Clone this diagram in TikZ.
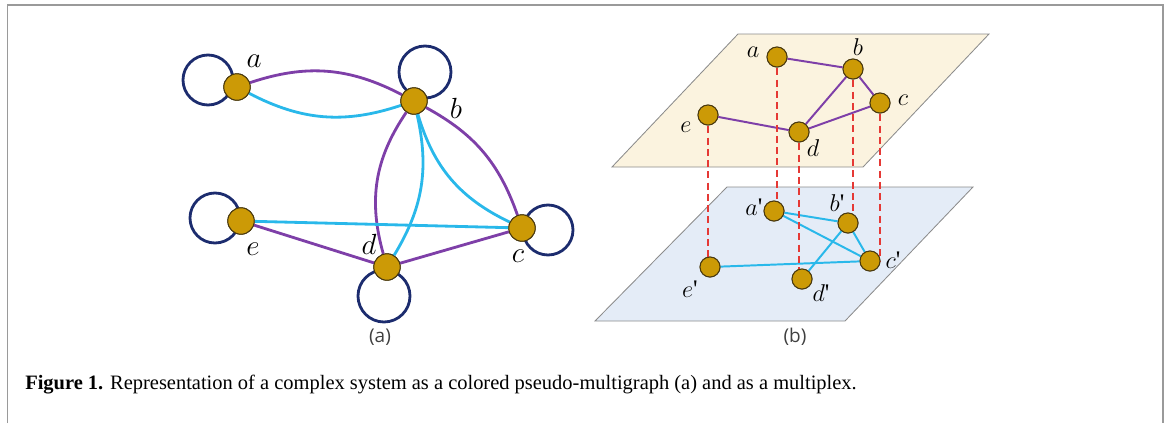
\documentclass[tikz,border=0pt]{standalone}
\usepackage{fontspec}
\setmainfont{Liberation Serif}
\newfontfamily\panelfont{Open Sans}
\usetikzlibrary{positioning}
\definecolor{nodegold}{HTML}{CC9A06}
\definecolor{nodeedge}{HTML}{4A3A10}
\definecolor{linkpurple}{HTML}{7E3FA8}
\definecolor{linkcyan}{HTML}{29B8EA}
\definecolor{loopnavy}{HTML}{1C2C6E}
\definecolor{interred}{HTML}{E53935}
\definecolor{planecream}{HTML}{FBF3DF}
\definecolor{planeblue}{HTML}{E4ECF7}
\definecolor{framegrey}{HTML}{9A9A9A}
\newcommand{\pr}{\textquotesingle}
\tikzset{
  vert/.style={circle, fill=nodegold, draw=nodeedge, line width=0.7pt,
               minimum size=0.66cm, inner sep=0pt},
  vertb/.style={vert, minimum size=0.5cm},
  lbl/.style={font=\fontsize{22}{22}\selectfont, inner sep=0pt},
  lblb/.style={font=\fontsize{18}{18}\selectfont, inner sep=0pt},
  lpur/.style={draw=linkpurple, line width=2pt},
  lcya/.style={draw=linkcyan, line width=2pt},
  lpurb/.style={draw=linkpurple, line width=1.4pt},
  lcyab/.style={draw=linkcyan, line width=1.4pt},
  selfloop/.style={draw=loopnavy, line width=2pt},
  inter/.style={draw=interred, line width=1.8pt, dash pattern=on 5pt off 3pt},
  plane/.style={draw=black!45, line width=0.6pt},
  panel/.style={font=\panelfont\fontsize{13.5}{13.5}\selectfont, text=black!75},
}
\begin{document}
\begin{tikzpicture}[x=0.025cm, y=-0.025cm]
  \useasboundingbox (0,0) rectangle (1170,423);
  % frame
  \draw[framegrey, line width=1.4pt] (7.5,423) -- (7.5,5) -- (1163,5) -- (1163,423);

  % (a) pseudo-multigraph
  \draw[selfloop] (208,80) circle (25);
  \draw[selfloop] (425,72) circle (26);
  \draw[selfloop] (548,230) circle (25);
  \draw[selfloop] (384,296) circle (26);
  \draw[selfloop] (215,218) circle (25);
  \node[vert] (a) at (237,87) {};
  \node[vert] (b) at (414,101) {};
  \node[vert] (c) at (522,228) {};
  \node[vert] (d) at (387,267) {};
  \node[vert] (e) at (241,221) {};
  \draw[lpur] (a) to[bend left=23] (b);
  \draw[lcya] (a) to[bend right=23] (b);
  \draw[lpur] (b) to[bend right=25] (d);
  \draw[lcya] (b) to[bend left=22] (d);
  \draw[lpur] (b) to[bend left=21] (c);
  \draw[lcya] (b) to[bend right=24] (c);
  \draw[lcya] (e) -- (c);
  \draw[lpur] (e) -- (d);
  \draw[lpur] (d) -- (c);
  \foreach \n in {a,b,c,d,e}
    \node[vert] at (\n) {};
  \node[lbl] (la) at (254,61) {$a$};
  \node[lbl] (lb) at (456,108) {$b$};
  \node[lbl] (lc) at (518,256) {$c$};
  \node[lbl] (ld) at (369,244) {$d$};
  \node[lbl] (le) at (253,249) {$e$};
  \node[panel] (capa) at (380,337) {(a)};

  % (b) multiplex
  \filldraw[plane, fill=planeblue] (727,187) -- (973,187) -- (845,321) -- (595,321) -- cycle;
  \filldraw[plane, fill=planecream] (738,34) -- (989,34) -- (863,167) -- (612,167) -- cycle;
  % upper layer
  \node[vertb] (ta) at (777,57) {};
  \node[vertb] (tb) at (853,69) {};
  \node[vertb] (tc) at (880,103) {};
  \node[vertb] (td) at (799,132) {};
  \node[vertb] (te) at (708,115) {};
  % lower layer
  \node[vertb] (ba) at (774,211) {};
  \node[vertb] (bb) at (848,223) {};
  \node[vertb] (bc) at (870,261) {};
  \node[vertb] (bd) at (802,279) {};
  \node[vertb] (be) at (710,267) {};
  \draw[lpurb] (ta) -- (tb) -- (td) -- (te);
  \draw[lpurb] (tb) -- (tc) -- (td);
  \draw[lcyab] (ba) -- (bb) -- (bc) -- (ba);
  \draw[lcyab] (bb) -- (bd);
  \draw[lcyab] (be) -- (bc);
  % interlayer
  \draw[inter] (te.center) -- (te.center |- be.center);
  \draw[inter] (ta.center) -- (ta.center |- ba.center);
  \draw[inter] (td.center) -- (td.center |- bd.center);
  \draw[inter] (tb.center) -- (tb.center |- bb.center);
  \draw[inter] (tc.center) -- (tc.center |- bc.center);
  \foreach \n in {ta,tb,tc,td,te,ba,bb,bc,bd,be}
    \node[vertb] at (\n) {};
  \node[lblb] at (753,52) {$a$};
  \node[lblb] at (858,47) {$b$};
  \node[lblb] at (903,100) {$c$};
  \node[lblb] at (813,148) {$d$};
  \node[lblb] at (686,127) {$e$};
  \node[lblb] at (754,207) {$a$\pr};
  \node[lblb] at (837,203) {$b$\pr};
  \node[lblb] at (893,260) {$c$\pr};
  \node[lblb] at (821,293) {$d$\pr};
  \node[lblb] at (690,289) {$e$\pr};
  \node[panel] (capb) at (795,337) {(b)};

  % caption
  \node[anchor=west, inner sep=0pt, font=\fontsize{14.55}{14.55}\selectfont] (caption) at (25,385)
    {\textbf{Figure 1.} Representation of a complex system as a colored pseudo-multigraph (a) and as a multiplex.};
\end{tikzpicture}
\end{document}
